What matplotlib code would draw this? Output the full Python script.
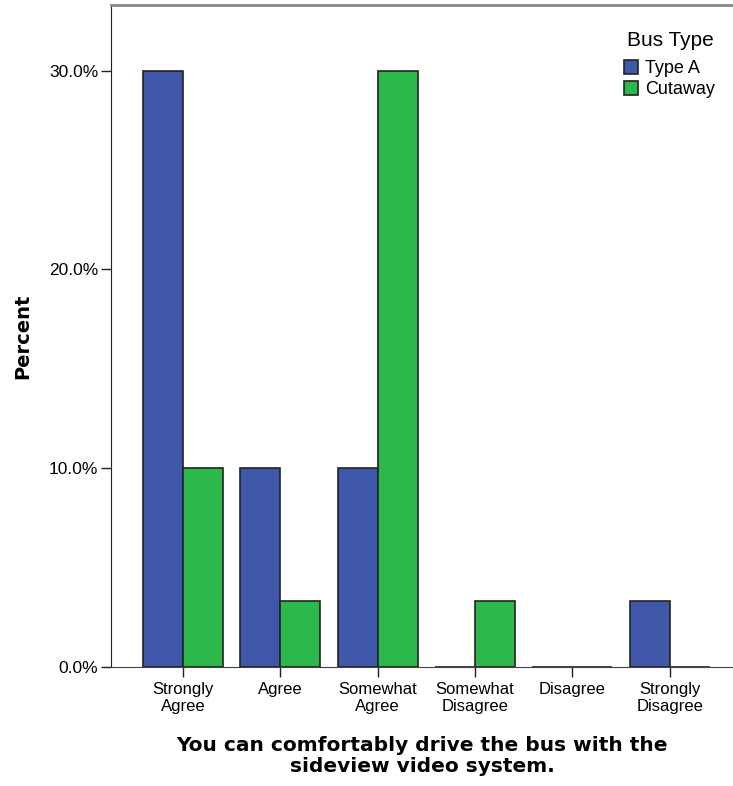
import numpy as np
import matplotlib
matplotlib.use("Agg")
import matplotlib.pyplot as plt

plt.rcParams['font.family'] = ['Liberation Sans', 'DejaVu Sans']

categories = ['Strongly\nAgree', 'Agree', 'Somewhat\nAgree', 'Somewhat\nDisagree',
              'Disagree', 'Strongly\nDisagree']
type_a = [30.0, 10.0, 10.0, 0.0, 0.0, 3.33]
cutaway = [10.0, 3.33, 30.0, 3.33, 0.0, 0.0]
yticks = [0, 10, 20, 30]

fig = plt.figure(figsize=(7.33, 7.86), dpi=100)
ax = fig.add_axes([0.1514, 0.1514, 0.8486, 0.8422])

x = np.arange(len(categories))
w = 0.41
ax.bar(x - w / 2, type_a, w, color='#3e57a9', edgecolor='#222222', linewidth=1.2,
       label='Type A')
ax.bar(x + w / 2, cutaway, w, color='#2db84b', edgecolor='#222222', linewidth=1.2,
       label='Cutaway')

ax.set_xlim(-0.74, 5.65)
ax.set_ylim(0, 33.3)
ax.set_xticks(x)
ax.set_xticklabels(categories, fontsize=12, linespacing=1.15)
ax.set_yticks(yticks)
ax.set_yticklabels(['%.1f%%' % v for v in yticks], fontsize=12.5)
ax.tick_params(axis='x', length=7, width=1, color='#222222', pad=4)
ax.tick_params(axis='y', length=7, width=1, color='#222222', pad=2)

ax.spines['right'].set_visible(False)
ax.spines['top'].set_color('#888888')
ax.spines['top'].set_linewidth(2)
ax.spines['left'].set_color('#222222')
ax.spines['bottom'].set_color('#444444')

ax.set_ylabel('Percent', fontsize=14, fontweight='bold', family='DejaVu Sans')
ax.yaxis.set_label_coords(-0.127, 0.5)
ax.set_xlabel('You can comfortably drive the bus with the\nsideview video system.',
              fontsize=14.5, fontweight='bold', family='DejaVu Sans', labelpad=16,
              linespacing=1.12)

# legend: title as separate text, entries below
fig.text(670 / 733, 1 - 41 / 786, 'Bus Type', ha='center', va='center', fontsize=15)
leg = ax.legend(loc='upper left', bbox_to_anchor=(624 / 733, 1 - 60 / 786),
                bbox_transform=fig.transFigure, frameon=False, fontsize=13,
                handlelength=0.78, handleheight=0.78, handletextpad=0.39,
                labelspacing=0.22, borderpad=0, borderaxespad=0)
for p in leg.get_patches():
    p.set_edgecolor('#222222')

fig.savefig('out.png', dpi=100)
